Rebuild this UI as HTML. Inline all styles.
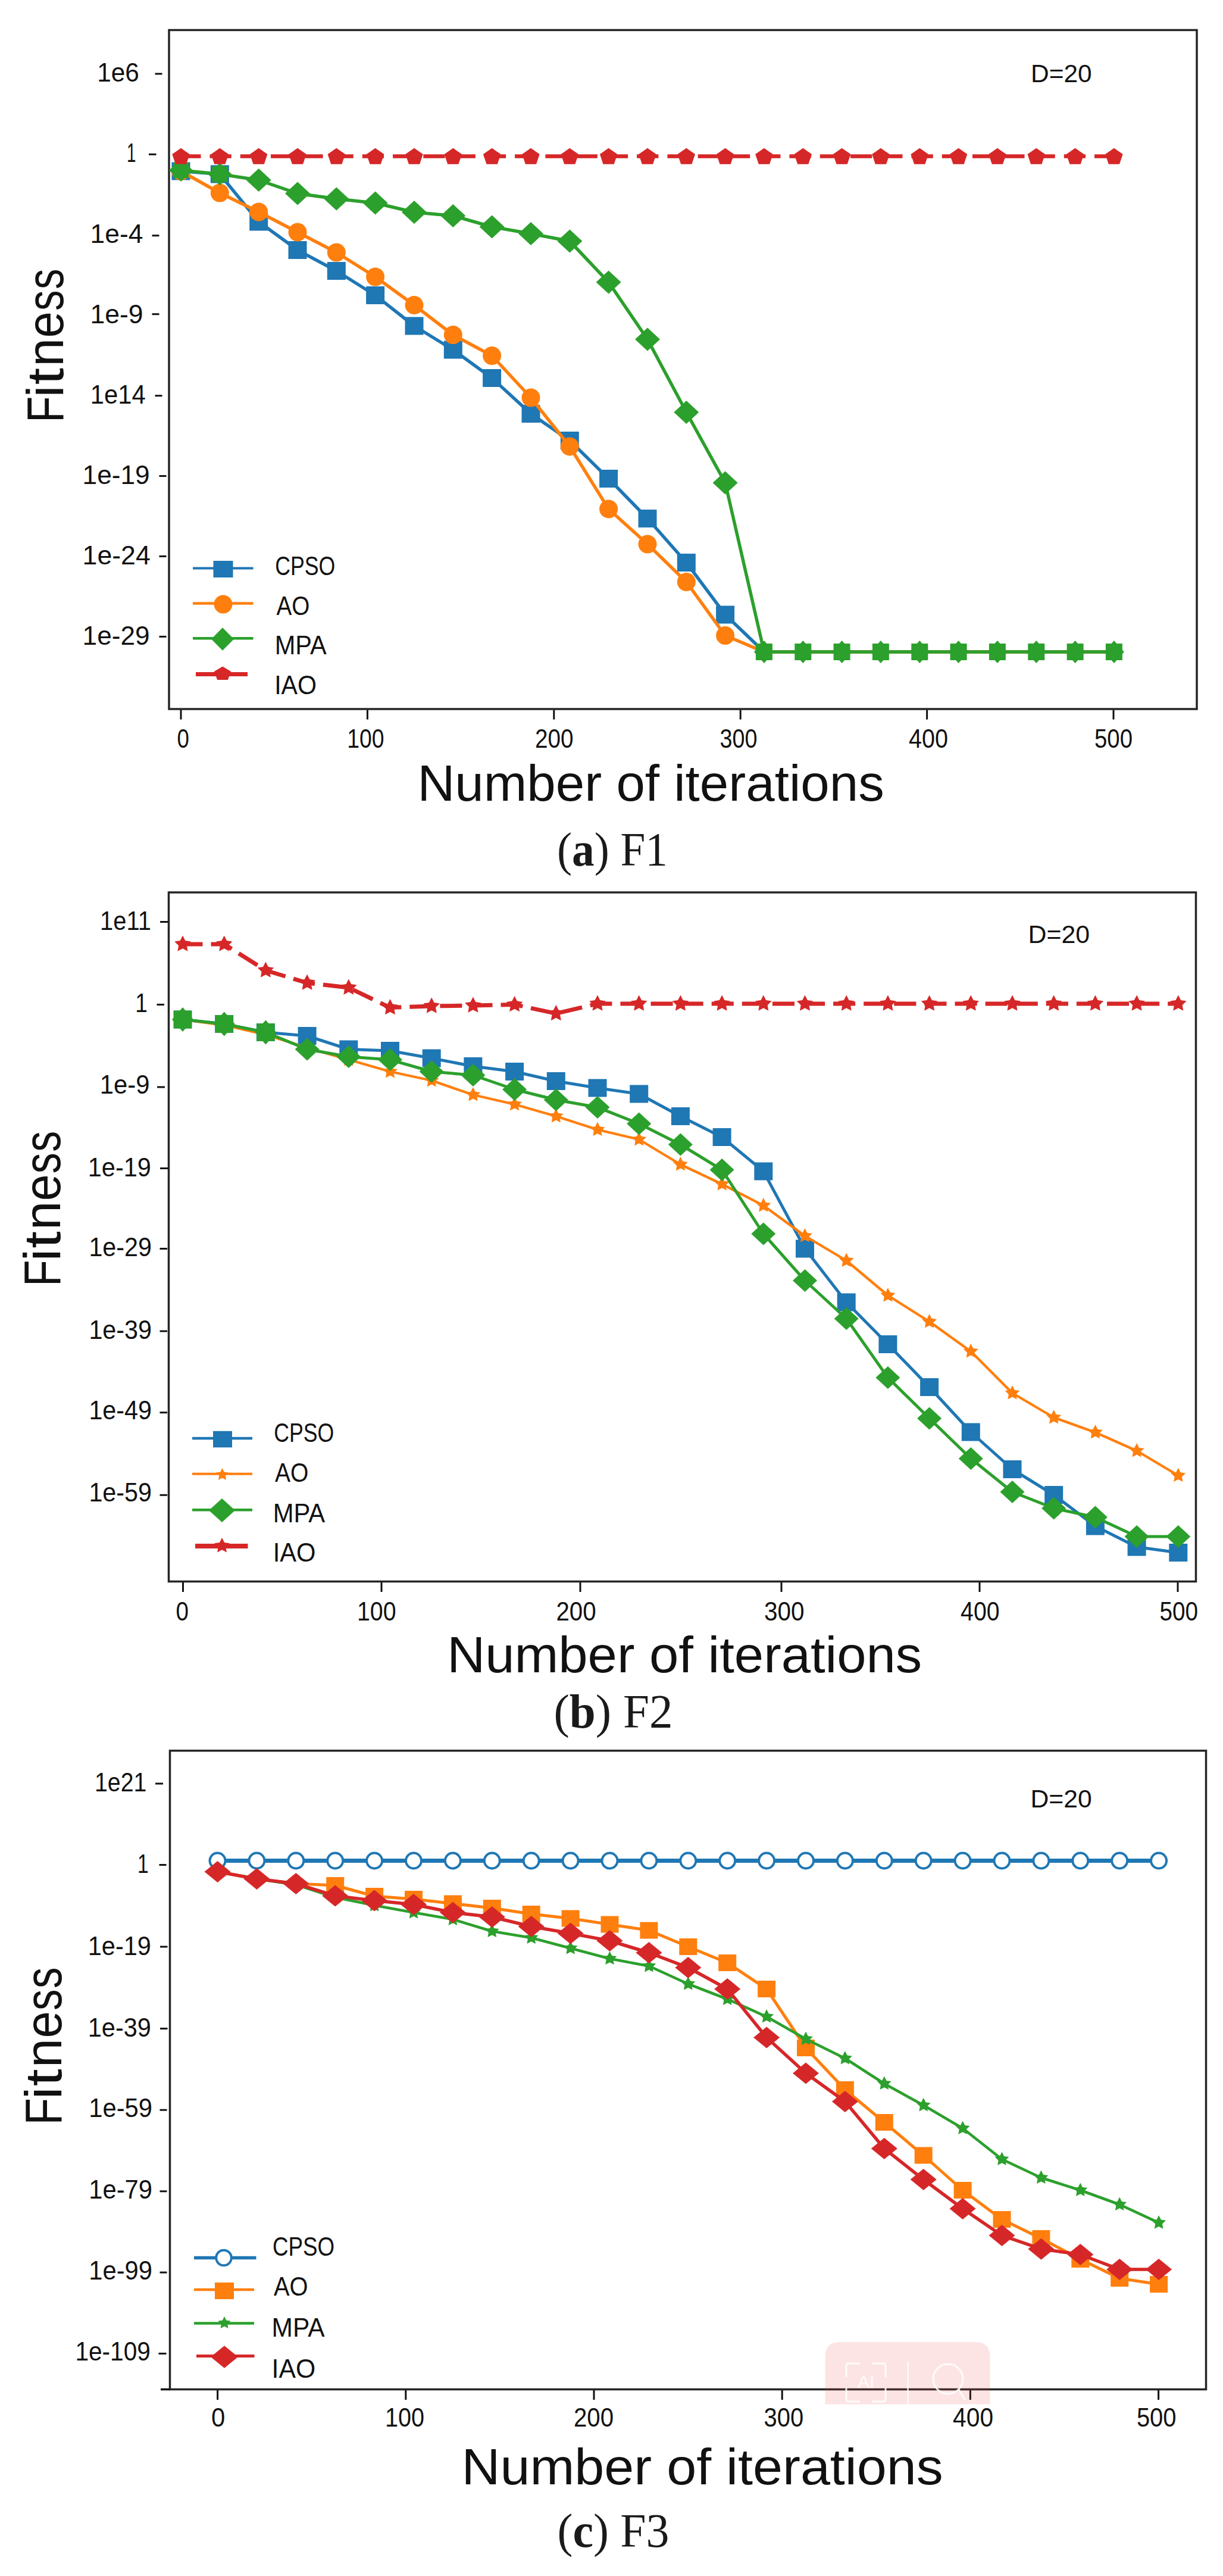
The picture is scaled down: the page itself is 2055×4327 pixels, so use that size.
<!DOCTYPE html><html><head><meta charset="utf-8"><title>Convergence curves F1-F3</title>
<style>html,body{margin:0;padding:0;background:#fff;}svg{display:block;}</style></head><body>
<svg width="2055" height="4327" viewBox="0 0 2055 4327">
<rect width="2055" height="4327" fill="#fff"/>
<rect x="284" y="50.5" width="1727" height="1140.5" fill="none" stroke="#262626" stroke-width="3.5"/>
<line x1="304" y1="1192.5" x2="304" y2="1208.5" stroke="#111" stroke-width="3"/>
<line x1="617.4" y1="1192.5" x2="617.4" y2="1208.5" stroke="#111" stroke-width="3"/>
<line x1="930.8" y1="1192.5" x2="930.8" y2="1208.5" stroke="#111" stroke-width="3"/>
<line x1="1244.2" y1="1192.5" x2="1244.2" y2="1208.5" stroke="#111" stroke-width="3"/>
<line x1="1557.6" y1="1192.5" x2="1557.6" y2="1208.5" stroke="#111" stroke-width="3"/>
<line x1="1871" y1="1192.5" x2="1871" y2="1208.5" stroke="#111" stroke-width="3"/>
<text x="297.6" y="1256" font-size="44" textLength="20.4" lengthAdjust="spacingAndGlyphs" font-family="'Liberation Sans',Arial,sans-serif" fill="#111">0</text>
<text x="583.2" y="1256" font-size="44" textLength="62.3" lengthAdjust="spacingAndGlyphs" font-family="'Liberation Sans',Arial,sans-serif" fill="#111">100</text>
<text x="899.1" y="1256" font-size="44" textLength="64.5" lengthAdjust="spacingAndGlyphs" font-family="'Liberation Sans',Arial,sans-serif" fill="#111">200</text>
<text x="1209.6" y="1256" font-size="44" textLength="62.9" lengthAdjust="spacingAndGlyphs" font-family="'Liberation Sans',Arial,sans-serif" fill="#111">300</text>
<text x="1527.1" y="1256" font-size="44" textLength="66" lengthAdjust="spacingAndGlyphs" font-family="'Liberation Sans',Arial,sans-serif" fill="#111">400</text>
<text x="1839" y="1256" font-size="44" textLength="64" lengthAdjust="spacingAndGlyphs" font-family="'Liberation Sans',Arial,sans-serif" fill="#111">500</text>
<text x="163.3" y="137" font-size="44" textLength="70.6" lengthAdjust="spacingAndGlyphs" font-family="'Liberation Sans',Arial,sans-serif" fill="#111">1e6</text>
<line x1="260.5" y1="124" x2="272.5" y2="124" stroke="#111" stroke-width="3"/>
<text x="212.9" y="272" font-size="44" textLength="15.5" lengthAdjust="spacingAndGlyphs" font-family="'Liberation Sans',Arial,sans-serif" fill="#111">1</text>
<line x1="250" y1="259.3" x2="262.5" y2="259.3" stroke="#111" stroke-width="3"/>
<text x="151.6" y="407.5" font-size="44" textLength="88.7" lengthAdjust="spacingAndGlyphs" font-family="'Liberation Sans',Arial,sans-serif" fill="#111">1e-4</text>
<line x1="255.5" y1="395.7" x2="267.5" y2="395.7" stroke="#111" stroke-width="3"/>
<text x="151.6" y="542.5" font-size="44" textLength="89" lengthAdjust="spacingAndGlyphs" font-family="'Liberation Sans',Arial,sans-serif" fill="#111">1e-9</text>
<line x1="255.5" y1="527.7" x2="267.5" y2="527.7" stroke="#111" stroke-width="3"/>
<text x="151.8" y="677.5" font-size="44" textLength="92.9" lengthAdjust="spacingAndGlyphs" font-family="'Liberation Sans',Arial,sans-serif" fill="#111">1e14</text>
<line x1="260.5" y1="664.7" x2="272.5" y2="664.7" stroke="#111" stroke-width="3"/>
<text x="138.6" y="812.5" font-size="44" textLength="113" lengthAdjust="spacingAndGlyphs" font-family="'Liberation Sans',Arial,sans-serif" fill="#111">1e-19</text>
<line x1="267.5" y1="799.6" x2="279.5" y2="799.6" stroke="#111" stroke-width="3"/>
<text x="138.6" y="947.5" font-size="44" textLength="114.2" lengthAdjust="spacingAndGlyphs" font-family="'Liberation Sans',Arial,sans-serif" fill="#111">1e-24</text>
<line x1="267.5" y1="934.5" x2="279.5" y2="934.5" stroke="#111" stroke-width="3"/>
<text x="138.6" y="1082.5" font-size="44" textLength="113" lengthAdjust="spacingAndGlyphs" font-family="'Liberation Sans',Arial,sans-serif" fill="#111">1e-29</text>
<line x1="267.5" y1="1069.4" x2="279.5" y2="1069.4" stroke="#111" stroke-width="3"/>
<text x="701.4" y="1345" font-size="85" textLength="784.3" lengthAdjust="spacingAndGlyphs" font-family="'Liberation Sans',Arial,sans-serif" fill="#111">Number of iterations</text>
<text x="1732" y="138" font-size="42" textLength="102.6" lengthAdjust="spacingAndGlyphs" font-family="'Liberation Sans',Arial,sans-serif" fill="#111">D=20</text>
<text transform="translate(105.7,703.9) rotate(-90)" y="0" font-size="88" font-family="'Liberation Sans',Arial,sans-serif" fill="#111"><tspan x="-6" textLength="44.4" lengthAdjust="spacingAndGlyphs">F</tspan><tspan x="36.1" textLength="20.5" lengthAdjust="spacingAndGlyphs">i</tspan><tspan x="57.6" textLength="28.3" lengthAdjust="spacingAndGlyphs">t</tspan><tspan x="88.2" textLength="47.8" lengthAdjust="spacingAndGlyphs">n</tspan><tspan x="136.3" textLength="44.4" lengthAdjust="spacingAndGlyphs">e</tspan><tspan x="181.9" textLength="34.6" lengthAdjust="spacingAndGlyphs">s</tspan><tspan x="218" textLength="34.6" lengthAdjust="spacingAndGlyphs">s</tspan></text>
<text x="936" y="1454" font-size="81" font-family="'Liberation Serif','Times New Roman',serif" fill="#1a1a1a" textLength="186" lengthAdjust="spacingAndGlyphs">(<tspan font-weight="bold">a</tspan>) F1</text>
<path d="M304 287.5 L369.3 292.5 L434.7 372.5 L500 420 L565.3 455 L630.6 496 L696 547.5 L761.3 587.5 L826.6 635 L892 695 L957.3 740 L1022.6 804 L1088 871 L1153.3 945 L1218.6 1032.5 L1283.9 1095 L1349.3 1095 L1414.6 1095 L1479.9 1095 L1545.3 1095 L1610.6 1095 L1675.9 1095 L1741.3 1095 L1806.6 1095 L1871.9 1095" fill="none" stroke="#1f77b4" stroke-width="5.5" stroke-linejoin="round"/>
<rect x="288.5" y="272.5" width="31" height="30" fill="#1f77b4"/>
<rect x="353.8" y="277.5" width="31" height="30" fill="#1f77b4"/>
<rect x="419.2" y="357.5" width="31" height="30" fill="#1f77b4"/>
<rect x="484.5" y="405" width="31" height="30" fill="#1f77b4"/>
<rect x="549.8" y="440" width="31" height="30" fill="#1f77b4"/>
<rect x="615.1" y="481" width="31" height="30" fill="#1f77b4"/>
<rect x="680.5" y="532.5" width="31" height="30" fill="#1f77b4"/>
<rect x="745.8" y="572.5" width="31" height="30" fill="#1f77b4"/>
<rect x="811.1" y="620" width="31" height="30" fill="#1f77b4"/>
<rect x="876.5" y="680" width="31" height="30" fill="#1f77b4"/>
<rect x="941.8" y="725" width="31" height="30" fill="#1f77b4"/>
<rect x="1007.1" y="789" width="31" height="30" fill="#1f77b4"/>
<rect x="1072.5" y="856" width="31" height="30" fill="#1f77b4"/>
<rect x="1137.8" y="930" width="31" height="30" fill="#1f77b4"/>
<rect x="1203.1" y="1017.5" width="31" height="30" fill="#1f77b4"/>
<path d="M304 287.5 L369.3 324 L434.7 356 L500 390 L565.3 424 L630.6 465 L696 512.5 L761.3 562.5 L826.6 597.5 L892 668 L957.3 750 L1022.6 855 L1088 914 L1153.3 977.5 L1218.6 1067.5 L1283.9 1095 L1349.3 1095 L1414.6 1095 L1479.9 1095 L1545.3 1095 L1610.6 1095 L1675.9 1095 L1741.3 1095 L1806.6 1095 L1871.9 1095" fill="none" stroke="#ff7f0e" stroke-width="5.5" stroke-linejoin="round"/>
<circle cx="304" cy="287.5" r="15.5" fill="#ff7f0e"/>
<circle cx="369.3" cy="324" r="15.5" fill="#ff7f0e"/>
<circle cx="434.7" cy="356" r="15.5" fill="#ff7f0e"/>
<circle cx="500" cy="390" r="15.5" fill="#ff7f0e"/>
<circle cx="565.3" cy="424" r="15.5" fill="#ff7f0e"/>
<circle cx="630.6" cy="465" r="15.5" fill="#ff7f0e"/>
<circle cx="696" cy="512.5" r="15.5" fill="#ff7f0e"/>
<circle cx="761.3" cy="562.5" r="15.5" fill="#ff7f0e"/>
<circle cx="826.6" cy="597.5" r="15.5" fill="#ff7f0e"/>
<circle cx="892" cy="668" r="15.5" fill="#ff7f0e"/>
<circle cx="957.3" cy="750" r="15.5" fill="#ff7f0e"/>
<circle cx="1022.6" cy="855" r="15.5" fill="#ff7f0e"/>
<circle cx="1088" cy="914" r="15.5" fill="#ff7f0e"/>
<circle cx="1153.3" cy="977.5" r="15.5" fill="#ff7f0e"/>
<circle cx="1218.6" cy="1067.5" r="15.5" fill="#ff7f0e"/>
<path d="M304 286 L369.3 292.5 L434.7 302.5 L500 325 L565.3 334 L630.6 341 L696 356.5 L761.3 362.5 L826.6 381 L892 392.5 L957.3 405 L1022.6 474 L1088 570 L1153.3 692.5 L1218.6 811 L1283.9 1095 L1349.3 1095 L1414.6 1095 L1479.9 1095 L1545.3 1095 L1610.6 1095 L1675.9 1095 L1741.3 1095 L1806.6 1095 L1871.9 1095" fill="none" stroke="#2ca02c" stroke-width="5.5" stroke-linejoin="round"/>
<rect x="291" y="273" width="26" height="26" fill="#2ca02c"/>
<path d="M304 267L324 286L304 305L284 286Z" fill="#2ca02c"/>
<rect x="356.3" y="279.5" width="26" height="26" fill="#2ca02c"/>
<path d="M369.3 273.5L389.3 292.5L369.3 311.5L349.3 292.5Z" fill="#2ca02c"/>
<path d="M434.7 283L455.7 302.5L434.7 322L413.7 302.5Z" fill="#2ca02c"/>
<path d="M500 305.5L521 325L500 344.5L479 325Z" fill="#2ca02c"/>
<path d="M565.3 314.5L586.3 334L565.3 353.5L544.3 334Z" fill="#2ca02c"/>
<path d="M630.6 321.5L651.6 341L630.6 360.5L609.6 341Z" fill="#2ca02c"/>
<path d="M696 337L717 356.5L696 376L675 356.5Z" fill="#2ca02c"/>
<path d="M761.3 343L782.3 362.5L761.3 382L740.3 362.5Z" fill="#2ca02c"/>
<path d="M826.6 361.5L847.6 381L826.6 400.5L805.6 381Z" fill="#2ca02c"/>
<path d="M892 373L913 392.5L892 412L871 392.5Z" fill="#2ca02c"/>
<path d="M957.3 385.5L978.3 405L957.3 424.5L936.3 405Z" fill="#2ca02c"/>
<path d="M1022.6 454.5L1043.6 474L1022.6 493.5L1001.6 474Z" fill="#2ca02c"/>
<path d="M1088 550.5L1109 570L1088 589.5L1067 570Z" fill="#2ca02c"/>
<path d="M1153.3 673L1174.3 692.5L1153.3 712L1132.3 692.5Z" fill="#2ca02c"/>
<path d="M1218.6 791.5L1239.6 811L1218.6 830.5L1197.6 811Z" fill="#2ca02c"/>
<rect x="1269.9" y="1081" width="28" height="28" fill="#2ca02c"/>
<path d="M1283.9 1076L1300.9 1095L1283.9 1114L1266.9 1095Z" fill="#2ca02c"/>
<rect x="1335.3" y="1081" width="28" height="28" fill="#2ca02c"/>
<path d="M1349.3 1076L1366.3 1095L1349.3 1114L1332.3 1095Z" fill="#2ca02c"/>
<rect x="1400.6" y="1081" width="28" height="28" fill="#2ca02c"/>
<path d="M1414.6 1076L1431.6 1095L1414.6 1114L1397.6 1095Z" fill="#2ca02c"/>
<rect x="1465.9" y="1081" width="28" height="28" fill="#2ca02c"/>
<path d="M1479.9 1076L1496.9 1095L1479.9 1114L1462.9 1095Z" fill="#2ca02c"/>
<rect x="1531.3" y="1081" width="28" height="28" fill="#2ca02c"/>
<path d="M1545.3 1076L1562.3 1095L1545.3 1114L1528.3 1095Z" fill="#2ca02c"/>
<rect x="1596.6" y="1081" width="28" height="28" fill="#2ca02c"/>
<path d="M1610.6 1076L1627.6 1095L1610.6 1114L1593.6 1095Z" fill="#2ca02c"/>
<rect x="1661.9" y="1081" width="28" height="28" fill="#2ca02c"/>
<path d="M1675.9 1076L1692.9 1095L1675.9 1114L1658.9 1095Z" fill="#2ca02c"/>
<rect x="1727.3" y="1081" width="28" height="28" fill="#2ca02c"/>
<path d="M1741.3 1076L1758.3 1095L1741.3 1114L1724.3 1095Z" fill="#2ca02c"/>
<rect x="1792.6" y="1081" width="28" height="28" fill="#2ca02c"/>
<path d="M1806.6 1076L1823.6 1095L1806.6 1114L1789.6 1095Z" fill="#2ca02c"/>
<rect x="1857.9" y="1081" width="28" height="28" fill="#2ca02c"/>
<path d="M1871.9 1076L1888.9 1095L1871.9 1114L1854.9 1095Z" fill="#2ca02c"/>
<path d="M304 262.5 L369.3 262.5 L434.7 262.5 L500 262.5 L565.3 262.5 L630.6 262.5 L696 262.5 L761.3 262.5 L826.6 262.5 L892 262.5 L957.3 262.5 L1022.6 262.5 L1088 262.5 L1153.3 262.5 L1218.6 262.5 L1283.9 262.5 L1349.3 262.5 L1414.6 262.5 L1479.9 262.5 L1545.3 262.5 L1610.6 262.5 L1675.9 262.5 L1741.3 262.5 L1806.6 262.5 L1871.9 262.5" fill="none" stroke="#d62728" stroke-width="6.5" stroke-linejoin="round" stroke-dasharray="36.26 15" stroke-dashoffset="2.76"/>
<polygon points="304,248.7 318.7,259.1 313.1,275.8 294.9,275.8 289.3,259.1" fill="#d62728"/>
<polygon points="369.3,248.7 384.1,259.1 378.4,275.8 360.2,275.8 354.6,259.1" fill="#d62728"/>
<polygon points="434.7,248.7 449.4,259.1 443.8,275.8 425.5,275.8 419.9,259.1" fill="#d62728"/>
<polygon points="500,248.7 514.7,259.1 509.1,275.8 490.9,275.8 485.2,259.1" fill="#d62728"/>
<polygon points="565.3,248.7 580.1,259.1 574.4,275.8 556.2,275.8 550.6,259.1" fill="#d62728"/>
<polygon points="630.6,248.7 645.4,259.1 639.8,275.8 621.5,275.8 615.9,259.1" fill="#d62728"/>
<polygon points="696,248.7 710.7,259.1 705.1,275.8 686.9,275.8 681.2,259.1" fill="#d62728"/>
<polygon points="761.3,248.7 776.1,259.1 770.4,275.8 752.2,275.8 746.6,259.1" fill="#d62728"/>
<polygon points="826.6,248.7 841.4,259.1 835.8,275.8 817.5,275.8 811.9,259.1" fill="#d62728"/>
<polygon points="892,248.7 906.7,259.1 901.1,275.8 882.9,275.8 877.2,259.1" fill="#d62728"/>
<polygon points="957.3,248.7 972,259.1 966.4,275.8 948.2,275.8 942.6,259.1" fill="#d62728"/>
<polygon points="1022.6,248.7 1037.4,259.1 1031.7,275.8 1013.5,275.8 1007.9,259.1" fill="#d62728"/>
<polygon points="1088,248.7 1102.7,259.1 1097.1,275.8 1078.8,275.8 1073.2,259.1" fill="#d62728"/>
<polygon points="1153.3,248.7 1168,259.1 1162.4,275.8 1144.2,275.8 1138.5,259.1" fill="#d62728"/>
<polygon points="1218.6,248.7 1233.4,259.1 1227.7,275.8 1209.5,275.8 1203.9,259.1" fill="#d62728"/>
<polygon points="1283.9,248.7 1298.7,259.1 1293.1,275.8 1274.8,275.8 1269.2,259.1" fill="#d62728"/>
<polygon points="1349.3,248.7 1364,259.1 1358.4,275.8 1340.2,275.8 1334.5,259.1" fill="#d62728"/>
<polygon points="1414.6,248.7 1429.4,259.1 1423.7,275.8 1405.5,275.8 1399.9,259.1" fill="#d62728"/>
<polygon points="1479.9,248.7 1494.7,259.1 1489.1,275.8 1470.8,275.8 1465.2,259.1" fill="#d62728"/>
<polygon points="1545.3,248.7 1560,259.1 1554.4,275.8 1536.2,275.8 1530.5,259.1" fill="#d62728"/>
<polygon points="1610.6,248.7 1625.3,259.1 1619.7,275.8 1601.5,275.8 1595.9,259.1" fill="#d62728"/>
<polygon points="1675.9,248.7 1690.7,259.1 1685,275.8 1666.8,275.8 1661.2,259.1" fill="#d62728"/>
<polygon points="1741.3,248.7 1756,259.1 1750.4,275.8 1732.1,275.8 1726.5,259.1" fill="#d62728"/>
<polygon points="1806.6,248.7 1821.3,259.1 1815.7,275.8 1797.5,275.8 1791.8,259.1" fill="#d62728"/>
<polygon points="1871.9,248.7 1886.7,259.1 1881,275.8 1862.8,275.8 1857.2,259.1" fill="#d62728"/>
<line x1="324" y1="954.4" x2="425.5" y2="954.4" stroke="#1f77b4" stroke-width="4"/>
<rect x="358.5" y="942" width="33" height="28" fill="#1f77b4"/>
<line x1="324" y1="1013.6" x2="425.5" y2="1013.6" stroke="#ff7f0e" stroke-width="4.5"/>
<circle cx="375" cy="1015" r="15.5" fill="#ff7f0e"/>
<line x1="324" y1="1072.3" x2="425.5" y2="1072.3" stroke="#2ca02c" stroke-width="4.5"/>
<path d="M374 1054.2L393 1073.5L374 1092.8L355 1073.5Z" fill="#2ca02c"/>
<line x1="329" y1="1132.4" x2="416" y2="1132.4" stroke="#d62728" stroke-width="7"/>
<polygon points="374,1119.5 388.3,1128.1 382.8,1142.1 365.2,1142.1 359.7,1128.1" fill="#d62728"/>
<text x="462.2" y="966" font-size="44" textLength="101" lengthAdjust="spacingAndGlyphs" font-family="'Liberation Sans',Arial,sans-serif" fill="#111">CPSO</text>
<text x="464.4" y="1032.5" font-size="44" textLength="55.9" lengthAdjust="spacingAndGlyphs" font-family="'Liberation Sans',Arial,sans-serif" fill="#111">AO</text>
<text x="461.7" y="1098.5" font-size="44" textLength="86.9" lengthAdjust="spacingAndGlyphs" font-family="'Liberation Sans',Arial,sans-serif" fill="#111">MPA</text>
<text x="461.2" y="1165.5" font-size="44" textLength="70.8" lengthAdjust="spacingAndGlyphs" font-family="'Liberation Sans',Arial,sans-serif" fill="#111">IAO</text>
<rect x="283.5" y="1499" width="1726" height="1157.5" fill="none" stroke="#262626" stroke-width="3.5"/>
<line x1="307.5" y1="2658" x2="307.5" y2="2674" stroke="#111" stroke-width="3"/>
<line x1="641" y1="2658" x2="641" y2="2674" stroke="#111" stroke-width="3"/>
<line x1="975" y1="2658" x2="975" y2="2674" stroke="#111" stroke-width="3"/>
<line x1="1313" y1="2658" x2="1313" y2="2674" stroke="#111" stroke-width="3"/>
<line x1="1646" y1="2658" x2="1646" y2="2674" stroke="#111" stroke-width="3"/>
<line x1="1979" y1="2658" x2="1979" y2="2674" stroke="#111" stroke-width="3"/>
<text x="295.5" y="2721.5" font-size="44" textLength="21.5" lengthAdjust="spacingAndGlyphs" font-family="'Liberation Sans',Arial,sans-serif" fill="#111">0</text>
<text x="600" y="2721.5" font-size="44" textLength="65.5" lengthAdjust="spacingAndGlyphs" font-family="'Liberation Sans',Arial,sans-serif" fill="#111">100</text>
<text x="934.5" y="2721.5" font-size="44" textLength="67.1" lengthAdjust="spacingAndGlyphs" font-family="'Liberation Sans',Arial,sans-serif" fill="#111">200</text>
<text x="1284" y="2721.5" font-size="44" textLength="67.6" lengthAdjust="spacingAndGlyphs" font-family="'Liberation Sans',Arial,sans-serif" fill="#111">300</text>
<text x="1614.1" y="2721.5" font-size="44" textLength="65.4" lengthAdjust="spacingAndGlyphs" font-family="'Liberation Sans',Arial,sans-serif" fill="#111">400</text>
<text x="1948.5" y="2721.5" font-size="44" textLength="64.6" lengthAdjust="spacingAndGlyphs" font-family="'Liberation Sans',Arial,sans-serif" fill="#111">500</text>
<text x="168.1" y="1562" font-size="44" textLength="85.8" lengthAdjust="spacingAndGlyphs" font-family="'Liberation Sans',Arial,sans-serif" fill="#111">1e11</text>
<line x1="269" y1="1548.5" x2="282" y2="1548.5" stroke="#111" stroke-width="3"/>
<text x="227.2" y="1699.5" font-size="44" textLength="20.6" lengthAdjust="spacingAndGlyphs" font-family="'Liberation Sans',Arial,sans-serif" fill="#111">1</text>
<line x1="263.5" y1="1687.5" x2="276" y2="1687.5" stroke="#111" stroke-width="3"/>
<text x="167.8" y="1837" font-size="44" textLength="83.7" lengthAdjust="spacingAndGlyphs" font-family="'Liberation Sans',Arial,sans-serif" fill="#111">1e-9</text>
<line x1="264" y1="1826" x2="277" y2="1826" stroke="#111" stroke-width="3"/>
<text x="147.8" y="1975.5" font-size="44" textLength="106.1" lengthAdjust="spacingAndGlyphs" font-family="'Liberation Sans',Arial,sans-serif" fill="#111">1e-19</text>
<line x1="269" y1="1962.5" x2="282" y2="1962.5" stroke="#111" stroke-width="3"/>
<text x="149.4" y="2110" font-size="44" textLength="105.6" lengthAdjust="spacingAndGlyphs" font-family="'Liberation Sans',Arial,sans-serif" fill="#111">1e-29</text>
<line x1="268.5" y1="2097.5" x2="281" y2="2097.5" stroke="#111" stroke-width="3"/>
<text x="149.4" y="2248.5" font-size="44" textLength="105.6" lengthAdjust="spacingAndGlyphs" font-family="'Liberation Sans',Arial,sans-serif" fill="#111">1e-39</text>
<line x1="268.5" y1="2236" x2="281" y2="2236" stroke="#111" stroke-width="3"/>
<text x="149.4" y="2384" font-size="44" textLength="105.6" lengthAdjust="spacingAndGlyphs" font-family="'Liberation Sans',Arial,sans-serif" fill="#111">1e-49</text>
<line x1="268.5" y1="2372.7" x2="281" y2="2372.7" stroke="#111" stroke-width="3"/>
<text x="149.4" y="2521.5" font-size="44" textLength="105.6" lengthAdjust="spacingAndGlyphs" font-family="'Liberation Sans',Arial,sans-serif" fill="#111">1e-59</text>
<line x1="268.5" y1="2511.3" x2="281" y2="2511.3" stroke="#111" stroke-width="3"/>
<text x="751.2" y="2808.5" font-size="85" textLength="798" lengthAdjust="spacingAndGlyphs" font-family="'Liberation Sans',Arial,sans-serif" fill="#111">Number of iterations</text>
<text x="1727.5" y="1583.5" font-size="42" textLength="103.7" lengthAdjust="spacingAndGlyphs" font-family="'Liberation Sans',Arial,sans-serif" fill="#111">D=20</text>
<text transform="translate(100.8,2155) rotate(-90)" y="0" font-size="88" font-family="'Liberation Sans',Arial,sans-serif" fill="#111"><tspan x="-6" textLength="44.8" lengthAdjust="spacingAndGlyphs">F</tspan><tspan x="36.5" textLength="20.7" lengthAdjust="spacingAndGlyphs">i</tspan><tspan x="58.2" textLength="28.6" lengthAdjust="spacingAndGlyphs">t</tspan><tspan x="89.1" textLength="48.3" lengthAdjust="spacingAndGlyphs">n</tspan><tspan x="137.7" textLength="44.9" lengthAdjust="spacingAndGlyphs">e</tspan><tspan x="183.8" textLength="35" lengthAdjust="spacingAndGlyphs">s</tspan><tspan x="220.2" textLength="35" lengthAdjust="spacingAndGlyphs">s</tspan></text>
<text x="930.5" y="2902" font-size="81" font-family="'Liberation Serif','Times New Roman',serif" fill="#1a1a1a" textLength="200" lengthAdjust="spacingAndGlyphs">(<tspan font-weight="bold">b</tspan>) F2</text>
<path d="M307 1712.5 L376.7 1720 L446.4 1734 L516.1 1740 L585.8 1762.5 L655.5 1765 L725.2 1777.5 L794.9 1791 L864.6 1800 L934.3 1816 L1004 1827.5 L1073.7 1837.5 L1143.4 1875 L1213.1 1910 L1282.8 1967.5 L1352.5 2097.5 L1422.2 2187.5 L1491.9 2258 L1561.6 2330 L1631.3 2405.5 L1701 2468 L1770.7 2511 L1840.4 2563.5 L1910.1 2598.5 L1979.8 2608" fill="none" stroke="#1f77b4" stroke-width="5" stroke-linejoin="round"/>
<rect x="291.5" y="1697.5" width="31" height="30" fill="#1f77b4"/>
<rect x="361.2" y="1705" width="31" height="30" fill="#1f77b4"/>
<rect x="430.9" y="1719" width="31" height="30" fill="#1f77b4"/>
<rect x="500.6" y="1725" width="31" height="30" fill="#1f77b4"/>
<rect x="570.3" y="1747.5" width="31" height="30" fill="#1f77b4"/>
<rect x="640" y="1750" width="31" height="30" fill="#1f77b4"/>
<rect x="709.7" y="1762.5" width="31" height="30" fill="#1f77b4"/>
<rect x="779.4" y="1776" width="31" height="30" fill="#1f77b4"/>
<rect x="849.1" y="1785" width="31" height="30" fill="#1f77b4"/>
<rect x="918.8" y="1801" width="31" height="30" fill="#1f77b4"/>
<rect x="988.5" y="1812.5" width="31" height="30" fill="#1f77b4"/>
<rect x="1058.2" y="1822.5" width="31" height="30" fill="#1f77b4"/>
<rect x="1127.9" y="1860" width="31" height="30" fill="#1f77b4"/>
<rect x="1197.6" y="1895" width="31" height="30" fill="#1f77b4"/>
<rect x="1267.3" y="1952.5" width="31" height="30" fill="#1f77b4"/>
<rect x="1337" y="2082.5" width="31" height="30" fill="#1f77b4"/>
<rect x="1406.7" y="2172.5" width="31" height="30" fill="#1f77b4"/>
<rect x="1476.4" y="2243" width="31" height="30" fill="#1f77b4"/>
<rect x="1546.1" y="2315" width="31" height="30" fill="#1f77b4"/>
<rect x="1615.8" y="2390.5" width="31" height="30" fill="#1f77b4"/>
<rect x="1685.5" y="2453" width="31" height="30" fill="#1f77b4"/>
<rect x="1755.2" y="2496" width="31" height="30" fill="#1f77b4"/>
<rect x="1824.9" y="2548.5" width="31" height="30" fill="#1f77b4"/>
<rect x="1894.6" y="2583.5" width="31" height="30" fill="#1f77b4"/>
<rect x="1964.3" y="2593" width="31" height="30" fill="#1f77b4"/>
<path d="M307 1712.5 L376.7 1722 L446.4 1738 L516.1 1760 L585.8 1780 L655.5 1800 L725.2 1815 L794.9 1839 L864.6 1855 L934.3 1875 L1004 1897.5 L1073.7 1914 L1143.4 1956 L1213.1 1989 L1282.8 2025 L1352.5 2076 L1422.2 2117.5 L1491.9 2176 L1561.6 2220 L1631.3 2270 L1701 2340 L1770.7 2381 L1840.4 2406 L1910.1 2437 L1979.8 2478.5" fill="none" stroke="#ff7f0e" stroke-width="4.3" stroke-linejoin="round"/>
<polygon points="307,1699.5 310.8,1707.2 319.4,1708.5 313.2,1714.5 314.6,1723 307,1719 299.4,1723 300.8,1714.5 294.6,1708.5 303.2,1707.2" fill="#ff7f0e"/>
<polygon points="376.7,1709 380.5,1716.7 389.1,1718 382.9,1724 384.3,1732.5 376.7,1728.5 369.1,1732.5 370.5,1724 364.3,1718 372.9,1716.7" fill="#ff7f0e"/>
<polygon points="446.4,1725 450.2,1732.7 458.8,1734 452.6,1740 454,1748.5 446.4,1744.5 438.8,1748.5 440.2,1740 434,1734 442.6,1732.7" fill="#ff7f0e"/>
<polygon points="516.1,1747 519.9,1754.7 528.5,1756 522.3,1762 523.7,1770.5 516.1,1766.5 508.5,1770.5 509.9,1762 503.7,1756 512.3,1754.7" fill="#ff7f0e"/>
<polygon points="585.8,1767 589.6,1774.7 598.2,1776 592,1782 593.4,1790.5 585.8,1786.5 578.2,1790.5 579.6,1782 573.4,1776 582,1774.7" fill="#ff7f0e"/>
<polygon points="655.5,1787 659.3,1794.7 667.9,1796 661.7,1802 663.1,1810.5 655.5,1806.5 647.9,1810.5 649.3,1802 643.1,1796 651.7,1794.7" fill="#ff7f0e"/>
<polygon points="725.2,1802 729,1809.7 737.6,1811 731.4,1817 732.8,1825.5 725.2,1821.5 717.6,1825.5 719,1817 712.8,1811 721.4,1809.7" fill="#ff7f0e"/>
<polygon points="794.9,1826 798.7,1833.7 807.3,1835 801.1,1841 802.5,1849.5 794.9,1845.5 787.3,1849.5 788.7,1841 782.5,1835 791.1,1833.7" fill="#ff7f0e"/>
<polygon points="864.6,1842 868.4,1849.7 877,1851 870.8,1857 872.2,1865.5 864.6,1861.5 857,1865.5 858.4,1857 852.2,1851 860.8,1849.7" fill="#ff7f0e"/>
<polygon points="934.3,1862 938.1,1869.7 946.7,1871 940.5,1877 941.9,1885.5 934.3,1881.5 926.7,1885.5 928.1,1877 921.9,1871 930.5,1869.7" fill="#ff7f0e"/>
<polygon points="1004,1884.5 1007.8,1892.2 1016.4,1893.5 1010.2,1899.5 1011.6,1908 1004,1904 996.4,1908 997.8,1899.5 991.6,1893.5 1000.2,1892.2" fill="#ff7f0e"/>
<polygon points="1073.7,1901 1077.5,1908.7 1086.1,1910 1079.9,1916 1081.3,1924.5 1073.7,1920.5 1066.1,1924.5 1067.5,1916 1061.3,1910 1069.9,1908.7" fill="#ff7f0e"/>
<polygon points="1143.4,1943 1147.2,1950.7 1155.8,1952 1149.6,1958 1151,1966.5 1143.4,1962.5 1135.8,1966.5 1137.2,1958 1131,1952 1139.6,1950.7" fill="#ff7f0e"/>
<polygon points="1213.1,1976 1216.9,1983.7 1225.5,1985 1219.3,1991 1220.7,1999.5 1213.1,1995.5 1205.5,1999.5 1206.9,1991 1200.7,1985 1209.3,1983.7" fill="#ff7f0e"/>
<polygon points="1282.8,2012 1286.6,2019.7 1295.2,2021 1289,2027 1290.4,2035.5 1282.8,2031.5 1275.2,2035.5 1276.6,2027 1270.4,2021 1279,2019.7" fill="#ff7f0e"/>
<polygon points="1352.5,2063 1356.3,2070.7 1364.9,2072 1358.7,2078 1360.1,2086.5 1352.5,2082.5 1344.9,2086.5 1346.3,2078 1340.1,2072 1348.7,2070.7" fill="#ff7f0e"/>
<polygon points="1422.2,2104.5 1426,2112.2 1434.6,2113.5 1428.4,2119.5 1429.8,2128 1422.2,2124 1414.6,2128 1416,2119.5 1409.8,2113.5 1418.4,2112.2" fill="#ff7f0e"/>
<polygon points="1491.9,2163 1495.7,2170.7 1504.3,2172 1498.1,2178 1499.5,2186.5 1491.9,2182.5 1484.3,2186.5 1485.7,2178 1479.5,2172 1488.1,2170.7" fill="#ff7f0e"/>
<polygon points="1561.6,2207 1565.4,2214.7 1574,2216 1567.8,2222 1569.2,2230.5 1561.6,2226.5 1554,2230.5 1555.4,2222 1549.2,2216 1557.8,2214.7" fill="#ff7f0e"/>
<polygon points="1631.3,2257 1635.1,2264.7 1643.7,2266 1637.5,2272 1638.9,2280.5 1631.3,2276.5 1623.7,2280.5 1625.1,2272 1618.9,2266 1627.5,2264.7" fill="#ff7f0e"/>
<polygon points="1701,2327 1704.8,2334.7 1713.4,2336 1707.2,2342 1708.6,2350.5 1701,2346.5 1693.4,2350.5 1694.8,2342 1688.6,2336 1697.2,2334.7" fill="#ff7f0e"/>
<polygon points="1770.7,2368 1774.5,2375.7 1783.1,2377 1776.9,2383 1778.3,2391.5 1770.7,2387.5 1763.1,2391.5 1764.5,2383 1758.3,2377 1766.9,2375.7" fill="#ff7f0e"/>
<polygon points="1840.4,2393 1844.2,2400.7 1852.8,2402 1846.6,2408 1848,2416.5 1840.4,2412.5 1832.8,2416.5 1834.2,2408 1828,2402 1836.6,2400.7" fill="#ff7f0e"/>
<polygon points="1910.1,2424 1913.9,2431.7 1922.5,2433 1916.3,2439 1917.7,2447.5 1910.1,2443.5 1902.5,2447.5 1903.9,2439 1897.7,2433 1906.3,2431.7" fill="#ff7f0e"/>
<polygon points="1979.8,2465.5 1983.6,2473.2 1992.2,2474.5 1986,2480.5 1987.4,2489 1979.8,2485 1972.2,2489 1973.6,2480.5 1967.4,2474.5 1976,2473.2" fill="#ff7f0e"/>
<path d="M307 1712.5 L376.7 1720 L446.4 1734 L516.1 1762.5 L585.8 1775 L655.5 1780 L725.2 1800 L794.9 1806 L864.6 1830 L934.3 1847.5 L1004 1860 L1073.7 1887.5 L1143.4 1922.5 L1213.1 1965 L1282.8 2072.5 L1352.5 2151 L1422.2 2215 L1491.9 2314 L1561.6 2382.5 L1631.3 2450 L1701 2506 L1770.7 2533.5 L1840.4 2548.5 L1910.1 2581 L1979.8 2581" fill="none" stroke="#2ca02c" stroke-width="5" stroke-linejoin="round"/>
<rect x="292" y="1697.5" width="30" height="30" fill="#2ca02c"/>
<path d="M307 1692L325 1712.5L307 1733L289 1712.5Z" fill="#2ca02c"/>
<rect x="361.7" y="1705" width="30" height="30" fill="#2ca02c"/>
<path d="M376.7 1699.5L394.7 1720L376.7 1740.5L358.7 1720Z" fill="#2ca02c"/>
<rect x="431.4" y="1719" width="30" height="30" fill="#2ca02c"/>
<path d="M446.4 1713.5L464.4 1734L446.4 1754.5L428.4 1734Z" fill="#2ca02c"/>
<path d="M516.1 1743.5L536.6 1762.5L516.1 1781.5L495.6 1762.5Z" fill="#2ca02c"/>
<path d="M585.8 1756L606.3 1775L585.8 1794L565.3 1775Z" fill="#2ca02c"/>
<path d="M655.5 1761L676 1780L655.5 1799L635 1780Z" fill="#2ca02c"/>
<path d="M725.2 1781L745.7 1800L725.2 1819L704.7 1800Z" fill="#2ca02c"/>
<path d="M794.9 1787L815.4 1806L794.9 1825L774.4 1806Z" fill="#2ca02c"/>
<path d="M864.6 1811L885.1 1830L864.6 1849L844.1 1830Z" fill="#2ca02c"/>
<path d="M934.3 1828.5L954.8 1847.5L934.3 1866.5L913.8 1847.5Z" fill="#2ca02c"/>
<path d="M1004 1841L1024.5 1860L1004 1879L983.5 1860Z" fill="#2ca02c"/>
<path d="M1073.7 1868.5L1094.2 1887.5L1073.7 1906.5L1053.2 1887.5Z" fill="#2ca02c"/>
<path d="M1143.4 1903.5L1163.9 1922.5L1143.4 1941.5L1122.9 1922.5Z" fill="#2ca02c"/>
<path d="M1213.1 1946L1233.6 1965L1213.1 1984L1192.6 1965Z" fill="#2ca02c"/>
<path d="M1282.8 2053.5L1303.3 2072.5L1282.8 2091.5L1262.3 2072.5Z" fill="#2ca02c"/>
<path d="M1352.5 2132L1373 2151L1352.5 2170L1332 2151Z" fill="#2ca02c"/>
<path d="M1422.2 2196L1442.7 2215L1422.2 2234L1401.7 2215Z" fill="#2ca02c"/>
<path d="M1491.9 2295L1512.4 2314L1491.9 2333L1471.4 2314Z" fill="#2ca02c"/>
<path d="M1561.6 2363.5L1582.1 2382.5L1561.6 2401.5L1541.1 2382.5Z" fill="#2ca02c"/>
<path d="M1631.3 2431L1651.8 2450L1631.3 2469L1610.8 2450Z" fill="#2ca02c"/>
<path d="M1701 2487L1721.5 2506L1701 2525L1680.5 2506Z" fill="#2ca02c"/>
<path d="M1770.7 2514.5L1791.2 2533.5L1770.7 2552.5L1750.2 2533.5Z" fill="#2ca02c"/>
<path d="M1840.4 2529.5L1860.9 2548.5L1840.4 2567.5L1819.9 2548.5Z" fill="#2ca02c"/>
<path d="M1910.1 2562L1930.6 2581L1910.1 2600L1889.6 2581Z" fill="#2ca02c"/>
<path d="M1979.8 2562L2000.3 2581L1979.8 2600L1959.3 2581Z" fill="#2ca02c"/>
<path d="M307 1586 L376.7 1586 L446.4 1630 L516.1 1651 L585.8 1659 L655.5 1692.5 L725.2 1690 L794.9 1689 L864.6 1687.5 L934.3 1702.5 L1004 1686 L1073.7 1686 L1143.4 1686 L1213.1 1686 L1282.8 1686 L1352.5 1686 L1422.2 1686 L1491.9 1686 L1561.6 1686 L1631.3 1686 L1701 1686 L1770.7 1686 L1840.4 1686 L1910.1 1686 L1979.8 1686" fill="none" stroke="#d62728" stroke-width="7" stroke-linejoin="round" stroke-dasharray="37.1 14" stroke-dashoffset="3.6"/>
<polygon points="307,1571.5 311.3,1580.1 320.8,1581.5 313.9,1588.2 315.5,1597.7 307,1593.2 298.5,1597.7 300.1,1588.2 293.2,1581.5 302.7,1580.1" fill="#d62728"/>
<polygon points="376.7,1571.5 381,1580.1 390.5,1581.5 383.6,1588.2 385.2,1597.7 376.7,1593.2 368.2,1597.7 369.8,1588.2 362.9,1581.5 372.4,1580.1" fill="#d62728"/>
<polygon points="446.4,1615.5 450.7,1624.1 460.2,1625.5 453.3,1632.2 454.9,1641.7 446.4,1637.2 437.9,1641.7 439.5,1632.2 432.6,1625.5 442.1,1624.1" fill="#d62728"/>
<polygon points="516.1,1636.5 520.4,1645.1 529.9,1646.5 523,1653.2 524.6,1662.7 516.1,1658.2 507.6,1662.7 509.2,1653.2 502.3,1646.5 511.8,1645.1" fill="#d62728"/>
<polygon points="585.8,1644.5 590.1,1653.1 599.6,1654.5 592.7,1661.2 594.3,1670.7 585.8,1666.2 577.3,1670.7 578.9,1661.2 572,1654.5 581.5,1653.1" fill="#d62728"/>
<polygon points="655.5,1678 659.8,1686.6 669.3,1688 662.4,1694.7 664,1704.2 655.5,1699.8 647,1704.2 648.6,1694.7 641.7,1688 651.2,1686.6" fill="#d62728"/>
<polygon points="725.2,1675.5 729.5,1684.1 739,1685.5 732.1,1692.2 733.7,1701.7 725.2,1697.2 716.7,1701.7 718.3,1692.2 711.4,1685.5 720.9,1684.1" fill="#d62728"/>
<polygon points="794.9,1674.5 799.2,1683.1 808.7,1684.5 801.8,1691.2 803.4,1700.7 794.9,1696.2 786.4,1700.7 788,1691.2 781.1,1684.5 790.6,1683.1" fill="#d62728"/>
<polygon points="864.6,1673 868.9,1681.6 878.4,1683 871.5,1689.7 873.1,1699.2 864.6,1694.8 856.1,1699.2 857.7,1689.7 850.8,1683 860.3,1681.6" fill="#d62728"/>
<polygon points="934.3,1688 938.6,1696.6 948.1,1698 941.2,1704.7 942.8,1714.2 934.3,1709.8 925.8,1714.2 927.4,1704.7 920.5,1698 930,1696.6" fill="#d62728"/>
<polygon points="1004,1671.5 1008.3,1680.1 1017.8,1681.5 1010.9,1688.2 1012.5,1697.7 1004,1693.2 995.5,1697.7 997.1,1688.2 990.2,1681.5 999.7,1680.1" fill="#d62728"/>
<polygon points="1073.7,1671.5 1078,1680.1 1087.5,1681.5 1080.6,1688.2 1082.2,1697.7 1073.7,1693.2 1065.2,1697.7 1066.8,1688.2 1059.9,1681.5 1069.4,1680.1" fill="#d62728"/>
<polygon points="1143.4,1671.5 1147.7,1680.1 1157.2,1681.5 1150.3,1688.2 1151.9,1697.7 1143.4,1693.2 1134.9,1697.7 1136.5,1688.2 1129.6,1681.5 1139.1,1680.1" fill="#d62728"/>
<polygon points="1213.1,1671.5 1217.4,1680.1 1226.9,1681.5 1220,1688.2 1221.6,1697.7 1213.1,1693.2 1204.6,1697.7 1206.2,1688.2 1199.3,1681.5 1208.8,1680.1" fill="#d62728"/>
<polygon points="1282.8,1671.5 1287.1,1680.1 1296.6,1681.5 1289.7,1688.2 1291.3,1697.7 1282.8,1693.2 1274.3,1697.7 1275.9,1688.2 1269,1681.5 1278.5,1680.1" fill="#d62728"/>
<polygon points="1352.5,1671.5 1356.8,1680.1 1366.3,1681.5 1359.4,1688.2 1361,1697.7 1352.5,1693.2 1344,1697.7 1345.6,1688.2 1338.7,1681.5 1348.2,1680.1" fill="#d62728"/>
<polygon points="1422.2,1671.5 1426.5,1680.1 1436,1681.5 1429.1,1688.2 1430.7,1697.7 1422.2,1693.2 1413.7,1697.7 1415.3,1688.2 1408.4,1681.5 1417.9,1680.1" fill="#d62728"/>
<polygon points="1491.9,1671.5 1496.2,1680.1 1505.7,1681.5 1498.8,1688.2 1500.4,1697.7 1491.9,1693.2 1483.4,1697.7 1485,1688.2 1478.1,1681.5 1487.6,1680.1" fill="#d62728"/>
<polygon points="1561.6,1671.5 1565.9,1680.1 1575.4,1681.5 1568.5,1688.2 1570.1,1697.7 1561.6,1693.2 1553.1,1697.7 1554.7,1688.2 1547.8,1681.5 1557.3,1680.1" fill="#d62728"/>
<polygon points="1631.3,1671.5 1635.6,1680.1 1645.1,1681.5 1638.2,1688.2 1639.8,1697.7 1631.3,1693.2 1622.8,1697.7 1624.4,1688.2 1617.5,1681.5 1627,1680.1" fill="#d62728"/>
<polygon points="1701,1671.5 1705.3,1680.1 1714.8,1681.5 1707.9,1688.2 1709.5,1697.7 1701,1693.2 1692.5,1697.7 1694.1,1688.2 1687.2,1681.5 1696.7,1680.1" fill="#d62728"/>
<polygon points="1770.7,1671.5 1775,1680.1 1784.5,1681.5 1777.6,1688.2 1779.2,1697.7 1770.7,1693.2 1762.2,1697.7 1763.8,1688.2 1756.9,1681.5 1766.4,1680.1" fill="#d62728"/>
<polygon points="1840.4,1671.5 1844.7,1680.1 1854.2,1681.5 1847.3,1688.2 1848.9,1697.7 1840.4,1693.2 1831.9,1697.7 1833.5,1688.2 1826.6,1681.5 1836.1,1680.1" fill="#d62728"/>
<polygon points="1910.1,1671.5 1914.4,1680.1 1923.9,1681.5 1917,1688.2 1918.6,1697.7 1910.1,1693.2 1901.6,1697.7 1903.2,1688.2 1896.3,1681.5 1905.8,1680.1" fill="#d62728"/>
<polygon points="1979.8,1671.5 1984.1,1680.1 1993.6,1681.5 1986.7,1688.2 1988.3,1697.7 1979.8,1693.2 1971.3,1697.7 1972.9,1688.2 1966,1681.5 1975.5,1680.1" fill="#d62728"/>
<line x1="323" y1="2416" x2="424" y2="2416" stroke="#1f77b4" stroke-width="4.5"/>
<rect x="358" y="2403.8" width="32" height="27.5" fill="#1f77b4"/>
<line x1="323" y1="2475.8" x2="424" y2="2475.8" stroke="#ff7f0e" stroke-width="4"/>
<polygon points="373.5,2466 376.7,2472.6 384,2473.6 378.7,2478.7 380,2485.9 373.5,2482.5 367,2485.9 368.3,2478.7 363,2473.6 370.3,2472.6" fill="#ff7f0e"/>
<line x1="323" y1="2536.3" x2="424" y2="2536.3" stroke="#2ca02c" stroke-width="4.5"/>
<path d="M373 2517L395 2537L373 2557L351 2537Z" fill="#2ca02c"/>
<line x1="328" y1="2597" x2="416.5" y2="2597" stroke="#d62728" stroke-width="8"/>
<polygon points="373,2583 377,2591 385.8,2592.3 379.4,2598.6 380.9,2607.4 373,2603.2 365.1,2607.4 366.6,2598.6 360.2,2592.3 369,2591" fill="#d62728"/>
<text x="460.2" y="2421.5" font-size="44" textLength="101" lengthAdjust="spacingAndGlyphs" font-family="'Liberation Sans',Arial,sans-serif" fill="#111">CPSO</text>
<text x="461.9" y="2489" font-size="44" textLength="56.4" lengthAdjust="spacingAndGlyphs" font-family="'Liberation Sans',Arial,sans-serif" fill="#111">AO</text>
<text x="458.7" y="2556.5" font-size="44" textLength="87.4" lengthAdjust="spacingAndGlyphs" font-family="'Liberation Sans',Arial,sans-serif" fill="#111">MPA</text>
<text x="458.7" y="2623" font-size="44" textLength="71.8" lengthAdjust="spacingAndGlyphs" font-family="'Liberation Sans',Arial,sans-serif" fill="#111">IAO</text>
<rect x="285.5" y="2940.7" width="1741" height="1072.8" fill="none" stroke="#262626" stroke-width="3.5"/>
<line x1="270" y1="4013.5" x2="285.5" y2="4013.5" stroke="#111" stroke-width="3.5"/>
<line x1="365.6" y1="4015" x2="365.6" y2="4031" stroke="#111" stroke-width="3"/>
<line x1="681.8" y1="4015" x2="681.8" y2="4031" stroke="#111" stroke-width="3"/>
<line x1="998" y1="4015" x2="998" y2="4031" stroke="#111" stroke-width="3"/>
<line x1="1314.2" y1="4015" x2="1314.2" y2="4031" stroke="#111" stroke-width="3"/>
<line x1="1630.4" y1="4015" x2="1630.4" y2="4031" stroke="#111" stroke-width="3"/>
<line x1="1946.6" y1="4015" x2="1946.6" y2="4031" stroke="#111" stroke-width="3"/>
<text x="354.9" y="4075.5" font-size="44" textLength="23.3" lengthAdjust="spacingAndGlyphs" font-family="'Liberation Sans',Arial,sans-serif" fill="#111">0</text>
<text x="647" y="4075.5" font-size="44" textLength="66.1" lengthAdjust="spacingAndGlyphs" font-family="'Liberation Sans',Arial,sans-serif" fill="#111">100</text>
<text x="964" y="4075.5" font-size="44" textLength="67.1" lengthAdjust="spacingAndGlyphs" font-family="'Liberation Sans',Arial,sans-serif" fill="#111">200</text>
<text x="1283.5" y="4075.5" font-size="44" textLength="66.6" lengthAdjust="spacingAndGlyphs" font-family="'Liberation Sans',Arial,sans-serif" fill="#111">300</text>
<text x="1601.1" y="4075.5" font-size="44" textLength="68" lengthAdjust="spacingAndGlyphs" font-family="'Liberation Sans',Arial,sans-serif" fill="#111">400</text>
<text x="1909.9" y="4075.5" font-size="44" textLength="66.7" lengthAdjust="spacingAndGlyphs" font-family="'Liberation Sans',Arial,sans-serif" fill="#111">500</text>
<text x="159" y="3008.5" font-size="44" textLength="87.4" lengthAdjust="spacingAndGlyphs" font-family="'Liberation Sans',Arial,sans-serif" fill="#111">1e21</text>
<line x1="261" y1="2996" x2="274" y2="2996" stroke="#111" stroke-width="3"/>
<text x="230.9" y="3146" font-size="44" textLength="18.7" lengthAdjust="spacingAndGlyphs" font-family="'Liberation Sans',Arial,sans-serif" fill="#111">1</text>
<line x1="267.5" y1="3132.5" x2="279.5" y2="3132.5" stroke="#111" stroke-width="3"/>
<text x="147.8" y="3283.5" font-size="44" textLength="106.1" lengthAdjust="spacingAndGlyphs" font-family="'Liberation Sans',Arial,sans-serif" fill="#111">1e-19</text>
<line x1="269" y1="3270" x2="281.5" y2="3270" stroke="#111" stroke-width="3"/>
<text x="147.8" y="3420.5" font-size="44" textLength="106.1" lengthAdjust="spacingAndGlyphs" font-family="'Liberation Sans',Arial,sans-serif" fill="#111">1e-39</text>
<line x1="269" y1="3407.5" x2="281.5" y2="3407.5" stroke="#111" stroke-width="3"/>
<text x="149.3" y="3556" font-size="44" textLength="106.7" lengthAdjust="spacingAndGlyphs" font-family="'Liberation Sans',Arial,sans-serif" fill="#111">1e-59</text>
<line x1="268.5" y1="3544.2" x2="280.5" y2="3544.2" stroke="#111" stroke-width="3"/>
<text x="149.3" y="3692.5" font-size="44" textLength="106.7" lengthAdjust="spacingAndGlyphs" font-family="'Liberation Sans',Arial,sans-serif" fill="#111">1e-79</text>
<line x1="268.5" y1="3680.8" x2="280.5" y2="3680.8" stroke="#111" stroke-width="3"/>
<text x="149.3" y="3828.5" font-size="44" textLength="106.7" lengthAdjust="spacingAndGlyphs" font-family="'Liberation Sans',Arial,sans-serif" fill="#111">1e-99</text>
<line x1="268.5" y1="3817.1" x2="280.5" y2="3817.1" stroke="#111" stroke-width="3"/>
<text x="126.4" y="3965" font-size="44" textLength="126.5" lengthAdjust="spacingAndGlyphs" font-family="'Liberation Sans',Arial,sans-serif" fill="#111">1e-109</text>
<line x1="266.5" y1="3953.4" x2="279.5" y2="3953.4" stroke="#111" stroke-width="3"/>
<text x="775.6" y="4172.5" font-size="85" textLength="809.1" lengthAdjust="spacingAndGlyphs" font-family="'Liberation Sans',Arial,sans-serif" fill="#111">Number of iterations</text>
<text x="1731.5" y="3036" font-size="42" textLength="103.2" lengthAdjust="spacingAndGlyphs" font-family="'Liberation Sans',Arial,sans-serif" fill="#111">D=20</text>
<text transform="translate(103.3,3563.3) rotate(-90)" y="0" font-size="88" font-family="'Liberation Sans',Arial,sans-serif" fill="#111"><tspan x="-6.1" textLength="45.5" lengthAdjust="spacingAndGlyphs">F</tspan><tspan x="37" textLength="21" lengthAdjust="spacingAndGlyphs">i</tspan><tspan x="59" textLength="29" lengthAdjust="spacingAndGlyphs">t</tspan><tspan x="90.4" textLength="49" lengthAdjust="spacingAndGlyphs">n</tspan><tspan x="139.7" textLength="45.5" lengthAdjust="spacingAndGlyphs">e</tspan><tspan x="186.4" textLength="35.5" lengthAdjust="spacingAndGlyphs">s</tspan><tspan x="223.4" textLength="35.5" lengthAdjust="spacingAndGlyphs">s</tspan></text>
<text x="936.5" y="4278" font-size="81" font-family="'Liberation Serif','Times New Roman',serif" fill="#1a1a1a" textLength="188" lengthAdjust="spacingAndGlyphs">(<tspan font-weight="bold">c</tspan>) F3</text>
<path d="M365.5 3125.5 L431.4 3125.5 L497.3 3125.5 L563.2 3125.5 L629.1 3125.5 L695 3125.5 L760.9 3125.5 L826.8 3125.5 L892.7 3125.5 L958.6 3125.5 L1024.5 3125.5 L1090.4 3125.5 L1156.3 3125.5 L1222.2 3125.5 L1288.1 3125.5 L1354 3125.5 L1419.9 3125.5 L1485.8 3125.5 L1551.7 3125.5 L1617.6 3125.5 L1683.5 3125.5 L1749.4 3125.5 L1815.3 3125.5 L1881.2 3125.5 L1947.1 3125.5" fill="none" stroke="#1f77b4" stroke-width="7" stroke-linejoin="round"/>
<circle cx="365.5" cy="3125.5" r="13" fill="#fff" stroke="#1f77b4" stroke-width="4"/>
<circle cx="431.4" cy="3125.5" r="13" fill="#fff" stroke="#1f77b4" stroke-width="4"/>
<circle cx="497.3" cy="3125.5" r="13" fill="#fff" stroke="#1f77b4" stroke-width="4"/>
<circle cx="563.2" cy="3125.5" r="13" fill="#fff" stroke="#1f77b4" stroke-width="4"/>
<circle cx="629.1" cy="3125.5" r="13" fill="#fff" stroke="#1f77b4" stroke-width="4"/>
<circle cx="695" cy="3125.5" r="13" fill="#fff" stroke="#1f77b4" stroke-width="4"/>
<circle cx="760.9" cy="3125.5" r="13" fill="#fff" stroke="#1f77b4" stroke-width="4"/>
<circle cx="826.8" cy="3125.5" r="13" fill="#fff" stroke="#1f77b4" stroke-width="4"/>
<circle cx="892.7" cy="3125.5" r="13" fill="#fff" stroke="#1f77b4" stroke-width="4"/>
<circle cx="958.6" cy="3125.5" r="13" fill="#fff" stroke="#1f77b4" stroke-width="4"/>
<circle cx="1024.5" cy="3125.5" r="13" fill="#fff" stroke="#1f77b4" stroke-width="4"/>
<circle cx="1090.4" cy="3125.5" r="13" fill="#fff" stroke="#1f77b4" stroke-width="4"/>
<circle cx="1156.3" cy="3125.5" r="13" fill="#fff" stroke="#1f77b4" stroke-width="4"/>
<circle cx="1222.2" cy="3125.5" r="13" fill="#fff" stroke="#1f77b4" stroke-width="4"/>
<circle cx="1288.1" cy="3125.5" r="13" fill="#fff" stroke="#1f77b4" stroke-width="4"/>
<circle cx="1354" cy="3125.5" r="13" fill="#fff" stroke="#1f77b4" stroke-width="4"/>
<circle cx="1419.9" cy="3125.5" r="13" fill="#fff" stroke="#1f77b4" stroke-width="4"/>
<circle cx="1485.8" cy="3125.5" r="13" fill="#fff" stroke="#1f77b4" stroke-width="4"/>
<circle cx="1551.7" cy="3125.5" r="13" fill="#fff" stroke="#1f77b4" stroke-width="4"/>
<circle cx="1617.6" cy="3125.5" r="13" fill="#fff" stroke="#1f77b4" stroke-width="4"/>
<circle cx="1683.5" cy="3125.5" r="13" fill="#fff" stroke="#1f77b4" stroke-width="4"/>
<circle cx="1749.4" cy="3125.5" r="13" fill="#fff" stroke="#1f77b4" stroke-width="4"/>
<circle cx="1815.3" cy="3125.5" r="13" fill="#fff" stroke="#1f77b4" stroke-width="4"/>
<circle cx="1881.2" cy="3125.5" r="13" fill="#fff" stroke="#1f77b4" stroke-width="4"/>
<circle cx="1947.1" cy="3125.5" r="13" fill="#fff" stroke="#1f77b4" stroke-width="4"/>
<path d="M365.5 3144 L431.4 3156 L497.3 3164 L563.2 3167 L629.1 3185 L695 3190 L760.9 3197.5 L826.8 3205 L892.7 3215 L958.6 3222.5 L1024.5 3232.5 L1090.4 3242.5 L1156.3 3270 L1222.2 3297 L1288.1 3341 L1354 3440 L1419.9 3510 L1485.8 3565 L1551.7 3620.5 L1617.6 3679 L1683.5 3728 L1749.4 3760 L1815.3 3795 L1881.2 3827 L1947.1 3837" fill="none" stroke="#ff7f0e" stroke-width="5" stroke-linejoin="round"/>
<rect x="548.2" y="3153" width="30" height="28" fill="#ff7f0e"/>
<rect x="614.1" y="3171" width="30" height="28" fill="#ff7f0e"/>
<rect x="680" y="3176" width="30" height="28" fill="#ff7f0e"/>
<rect x="745.9" y="3183.5" width="30" height="28" fill="#ff7f0e"/>
<rect x="811.8" y="3191" width="30" height="28" fill="#ff7f0e"/>
<rect x="877.7" y="3201" width="30" height="28" fill="#ff7f0e"/>
<rect x="943.6" y="3208.5" width="30" height="28" fill="#ff7f0e"/>
<rect x="1009.5" y="3218.5" width="30" height="28" fill="#ff7f0e"/>
<rect x="1075.4" y="3228.5" width="30" height="28" fill="#ff7f0e"/>
<rect x="1141.3" y="3256" width="30" height="28" fill="#ff7f0e"/>
<rect x="1207.2" y="3283" width="30" height="28" fill="#ff7f0e"/>
<rect x="1273.1" y="3327" width="30" height="28" fill="#ff7f0e"/>
<rect x="1339" y="3426" width="30" height="28" fill="#ff7f0e"/>
<rect x="1404.9" y="3496" width="30" height="28" fill="#ff7f0e"/>
<rect x="1470.8" y="3551" width="30" height="28" fill="#ff7f0e"/>
<rect x="1536.7" y="3606.5" width="30" height="28" fill="#ff7f0e"/>
<rect x="1602.6" y="3665" width="30" height="28" fill="#ff7f0e"/>
<rect x="1668.5" y="3714" width="30" height="28" fill="#ff7f0e"/>
<rect x="1734.4" y="3746" width="30" height="28" fill="#ff7f0e"/>
<rect x="1800.3" y="3781" width="30" height="28" fill="#ff7f0e"/>
<rect x="1866.2" y="3813" width="30" height="28" fill="#ff7f0e"/>
<rect x="1932.1" y="3823" width="30" height="28" fill="#ff7f0e"/>
<path d="M365.5 3144 L431.4 3156 L497.3 3166 L563.2 3187 L629.1 3200.5 L695 3212.5 L760.9 3224 L826.8 3244 L892.7 3255 L958.6 3272.5 L1024.5 3290 L1090.4 3302.5 L1156.3 3332.5 L1222.2 3358 L1288.1 3387.5 L1354 3425 L1419.9 3457.5 L1485.8 3500 L1551.7 3536.3 L1617.6 3575 L1683.5 3627 L1749.4 3658 L1815.3 3679 L1881.2 3703 L1947.1 3733.7" fill="none" stroke="#2ca02c" stroke-width="4.6" stroke-linejoin="round"/>
<polygon points="563.2,3174.5 566.9,3181.9 575.1,3183.1 569.1,3188.9 570.5,3197.1 563.2,3193.2 555.9,3197.1 557.3,3188.9 551.3,3183.1 559.5,3181.9" fill="#2ca02c"/>
<polygon points="629.1,3188 632.8,3195.4 641,3196.6 635,3202.4 636.4,3210.6 629.1,3206.8 621.8,3210.6 623.2,3202.4 617.2,3196.6 625.4,3195.4" fill="#2ca02c"/>
<polygon points="695,3200 698.7,3207.4 706.9,3208.6 700.9,3214.4 702.3,3222.6 695,3218.8 687.7,3222.6 689.1,3214.4 683.1,3208.6 691.3,3207.4" fill="#2ca02c"/>
<polygon points="760.9,3211.5 764.6,3218.9 772.8,3220.1 766.8,3225.9 768.2,3234.1 760.9,3230.2 753.6,3234.1 755,3225.9 749,3220.1 757.2,3218.9" fill="#2ca02c"/>
<polygon points="826.8,3231.5 830.5,3238.9 838.7,3240.1 832.7,3245.9 834.1,3254.1 826.8,3250.2 819.5,3254.1 820.9,3245.9 814.9,3240.1 823.1,3238.9" fill="#2ca02c"/>
<polygon points="892.7,3242.5 896.4,3249.9 904.6,3251.1 898.6,3256.9 900,3265.1 892.7,3261.2 885.4,3265.1 886.8,3256.9 880.8,3251.1 889,3249.9" fill="#2ca02c"/>
<polygon points="958.6,3260 962.3,3267.4 970.5,3268.6 964.5,3274.4 965.9,3282.6 958.6,3278.8 951.3,3282.6 952.7,3274.4 946.7,3268.6 954.9,3267.4" fill="#2ca02c"/>
<polygon points="1024.5,3277.5 1028.2,3284.9 1036.4,3286.1 1030.4,3291.9 1031.8,3300.1 1024.5,3296.2 1017.2,3300.1 1018.6,3291.9 1012.6,3286.1 1020.8,3284.9" fill="#2ca02c"/>
<polygon points="1090.4,3290 1094.1,3297.4 1102.3,3298.6 1096.3,3304.4 1097.7,3312.6 1090.4,3308.8 1083.1,3312.6 1084.5,3304.4 1078.5,3298.6 1086.7,3297.4" fill="#2ca02c"/>
<polygon points="1156.3,3320 1160,3327.4 1168.2,3328.6 1162.2,3334.4 1163.6,3342.6 1156.3,3338.8 1149,3342.6 1150.4,3334.4 1144.4,3328.6 1152.6,3327.4" fill="#2ca02c"/>
<polygon points="1222.2,3345.5 1225.9,3352.9 1234.1,3354.1 1228.1,3359.9 1229.5,3368.1 1222.2,3364.2 1214.9,3368.1 1216.3,3359.9 1210.3,3354.1 1218.5,3352.9" fill="#2ca02c"/>
<polygon points="1288.1,3375 1291.8,3382.4 1300,3383.6 1294,3389.4 1295.4,3397.6 1288.1,3393.8 1280.8,3397.6 1282.2,3389.4 1276.2,3383.6 1284.4,3382.4" fill="#2ca02c"/>
<polygon points="1354,3412.5 1357.7,3419.9 1365.9,3421.1 1359.9,3426.9 1361.3,3435.1 1354,3431.2 1346.7,3435.1 1348.1,3426.9 1342.1,3421.1 1350.3,3419.9" fill="#2ca02c"/>
<polygon points="1419.9,3445 1423.6,3452.4 1431.8,3453.6 1425.8,3459.4 1427.2,3467.6 1419.9,3463.8 1412.6,3467.6 1414,3459.4 1408,3453.6 1416.2,3452.4" fill="#2ca02c"/>
<polygon points="1485.8,3487.5 1489.5,3494.9 1497.7,3496.1 1491.7,3501.9 1493.1,3510.1 1485.8,3506.2 1478.5,3510.1 1479.9,3501.9 1473.9,3496.1 1482.1,3494.9" fill="#2ca02c"/>
<polygon points="1551.7,3523.8 1555.4,3531.2 1563.6,3532.4 1557.6,3538.2 1559,3546.4 1551.7,3542.6 1544.4,3546.4 1545.8,3538.2 1539.8,3532.4 1548,3531.2" fill="#2ca02c"/>
<polygon points="1617.6,3562.5 1621.3,3569.9 1629.5,3571.1 1623.5,3576.9 1624.9,3585.1 1617.6,3581.2 1610.3,3585.1 1611.7,3576.9 1605.7,3571.1 1613.9,3569.9" fill="#2ca02c"/>
<polygon points="1683.5,3614.5 1687.2,3621.9 1695.4,3623.1 1689.4,3628.9 1690.8,3637.1 1683.5,3633.2 1676.2,3637.1 1677.6,3628.9 1671.6,3623.1 1679.8,3621.9" fill="#2ca02c"/>
<polygon points="1749.4,3645.5 1753.1,3652.9 1761.3,3654.1 1755.3,3659.9 1756.7,3668.1 1749.4,3664.2 1742.1,3668.1 1743.5,3659.9 1737.5,3654.1 1745.7,3652.9" fill="#2ca02c"/>
<polygon points="1815.3,3666.5 1819,3673.9 1827.2,3675.1 1821.2,3680.9 1822.6,3689.1 1815.3,3685.2 1808,3689.1 1809.4,3680.9 1803.4,3675.1 1811.6,3673.9" fill="#2ca02c"/>
<polygon points="1881.2,3690.5 1884.9,3697.9 1893.1,3699.1 1887.1,3704.9 1888.5,3713.1 1881.2,3709.2 1873.9,3713.1 1875.3,3704.9 1869.3,3699.1 1877.5,3697.9" fill="#2ca02c"/>
<polygon points="1947.1,3721.2 1950.8,3728.6 1959,3729.8 1953,3735.6 1954.4,3743.8 1947.1,3739.9 1939.8,3743.8 1941.2,3735.6 1935.2,3729.8 1943.4,3728.6" fill="#2ca02c"/>
<path d="M365.5 3144 L431.4 3156 L497.3 3164 L563.2 3184.5 L629.1 3192.5 L695 3199 L760.9 3212.5 L826.8 3220 L892.7 3236 L958.6 3247.5 L1024.5 3260 L1090.4 3280 L1156.3 3305 L1222.2 3341 L1288.1 3422.5 L1354 3482.5 L1419.9 3530 L1485.8 3609 L1551.7 3661 L1617.6 3710 L1683.5 3755 L1749.4 3777.7 L1815.3 3787 L1881.2 3812 L1947.1 3812" fill="none" stroke="#d62728" stroke-width="5.5" stroke-linejoin="round"/>
<path d="M365.5 3126L387.5 3144L365.5 3162L343.5 3144Z" fill="#d62728"/>
<path d="M431.4 3138L453.4 3156L431.4 3174L409.4 3156Z" fill="#d62728"/>
<path d="M497.3 3146L519.3 3164L497.3 3182L475.3 3164Z" fill="#d62728"/>
<path d="M563.2 3166.5L585.2 3184.5L563.2 3202.5L541.2 3184.5Z" fill="#d62728"/>
<path d="M629.1 3174.5L651.1 3192.5L629.1 3210.5L607.1 3192.5Z" fill="#d62728"/>
<path d="M695 3181L717 3199L695 3217L673 3199Z" fill="#d62728"/>
<path d="M760.9 3194.5L782.9 3212.5L760.9 3230.5L738.9 3212.5Z" fill="#d62728"/>
<path d="M826.8 3202L848.8 3220L826.8 3238L804.8 3220Z" fill="#d62728"/>
<path d="M892.7 3218L914.7 3236L892.7 3254L870.7 3236Z" fill="#d62728"/>
<path d="M958.6 3229.5L980.6 3247.5L958.6 3265.5L936.6 3247.5Z" fill="#d62728"/>
<path d="M1024.5 3242L1046.5 3260L1024.5 3278L1002.5 3260Z" fill="#d62728"/>
<path d="M1090.4 3262L1112.4 3280L1090.4 3298L1068.4 3280Z" fill="#d62728"/>
<path d="M1156.3 3287L1178.3 3305L1156.3 3323L1134.3 3305Z" fill="#d62728"/>
<path d="M1222.2 3323L1244.2 3341L1222.2 3359L1200.2 3341Z" fill="#d62728"/>
<path d="M1288.1 3404.5L1310.1 3422.5L1288.1 3440.5L1266.1 3422.5Z" fill="#d62728"/>
<path d="M1354 3464.5L1376 3482.5L1354 3500.5L1332 3482.5Z" fill="#d62728"/>
<path d="M1419.9 3512L1441.9 3530L1419.9 3548L1397.9 3530Z" fill="#d62728"/>
<path d="M1485.8 3591L1507.8 3609L1485.8 3627L1463.8 3609Z" fill="#d62728"/>
<path d="M1551.7 3643L1573.7 3661L1551.7 3679L1529.7 3661Z" fill="#d62728"/>
<path d="M1617.6 3692L1639.6 3710L1617.6 3728L1595.6 3710Z" fill="#d62728"/>
<path d="M1683.5 3737L1705.5 3755L1683.5 3773L1661.5 3755Z" fill="#d62728"/>
<path d="M1749.4 3759.7L1771.4 3777.7L1749.4 3795.7L1727.4 3777.7Z" fill="#d62728"/>
<path d="M1815.3 3769L1837.3 3787L1815.3 3805L1793.3 3787Z" fill="#d62728"/>
<path d="M1881.2 3794L1903.2 3812L1881.2 3830L1859.2 3812Z" fill="#d62728"/>
<path d="M1947.1 3794L1969.1 3812L1947.1 3830L1925.1 3812Z" fill="#d62728"/>
<line x1="326" y1="3792.5" x2="430.5" y2="3792.5" stroke="#1f77b4" stroke-width="5.5"/>
<circle cx="376" cy="3792.5" r="12.8" fill="#fff" stroke="#1f77b4" stroke-width="4"/>
<line x1="326" y1="3846" x2="427" y2="3846" stroke="#ff7f0e" stroke-width="4.5"/>
<rect x="361" y="3834" width="32" height="28" fill="#ff7f0e"/>
<line x1="326" y1="3902.5" x2="427" y2="3902.5" stroke="#2ca02c" stroke-width="4.5"/>
<polygon points="377,3891 380.2,3897.6 387.5,3898.6 382.2,3903.7 383.5,3910.9 377,3907.5 370.5,3910.9 371.8,3903.7 366.5,3898.6 373.8,3897.6" fill="#2ca02c"/>
<line x1="330" y1="3957.5" x2="427.5" y2="3957.5" stroke="#d62728" stroke-width="5"/>
<path d="M377 3940.2L400 3959L377 3977.8L354 3959Z" fill="#d62728"/>
<text x="458.1" y="3788.5" font-size="44" textLength="104.1" lengthAdjust="spacingAndGlyphs" font-family="'Liberation Sans',Arial,sans-serif" fill="#111">CPSO</text>
<text x="459.9" y="3855.5" font-size="44" textLength="57.5" lengthAdjust="spacingAndGlyphs" font-family="'Liberation Sans',Arial,sans-serif" fill="#111">AO</text>
<text x="456.6" y="3924.5" font-size="44" textLength="88.9" lengthAdjust="spacingAndGlyphs" font-family="'Liberation Sans',Arial,sans-serif" fill="#111">MPA</text>
<text x="456.6" y="3993.5" font-size="44" textLength="73.5" lengthAdjust="spacingAndGlyphs" font-family="'Liberation Sans',Arial,sans-serif" fill="#111">IAO</text>
<path d="M1386.5 4038.5 L1386.5 3959 Q1386.5 3934 1411.5 3934 L1638.5 3934 Q1663.5 3934 1663.5 3959 L1663.5 4038.5 Z" fill="#f04848" fill-opacity="0.15"/>
<g fill="none" stroke="#fff" stroke-opacity="0.85" stroke-width="3" stroke-linecap="round" stroke-linejoin="round">
<path d="M1422 3992 V3974 Q1422 3970 1426 3970 H1444 M1466 3970 H1484 Q1488 3970 1488 3974 V3992 M1488 4012 V4030 Q1488 4034 1484 4034 H1466 M1444 4034 H1426 Q1422 4034 1422 4030 V4012"/>
<line x1="1525.5" y1="3968" x2="1525.5" y2="4036" stroke-width="2.5"/>
<circle cx="1593" cy="3996" r="25"/>
<line x1="1611" y1="4014" x2="1621" y2="4030"/>
</g>
<text x="1441" y="4011" font-size="30" font-family="'Liberation Sans',Arial,sans-serif" fill="#fff" fill-opacity="0.85">AI</text>
</svg></body></html>
